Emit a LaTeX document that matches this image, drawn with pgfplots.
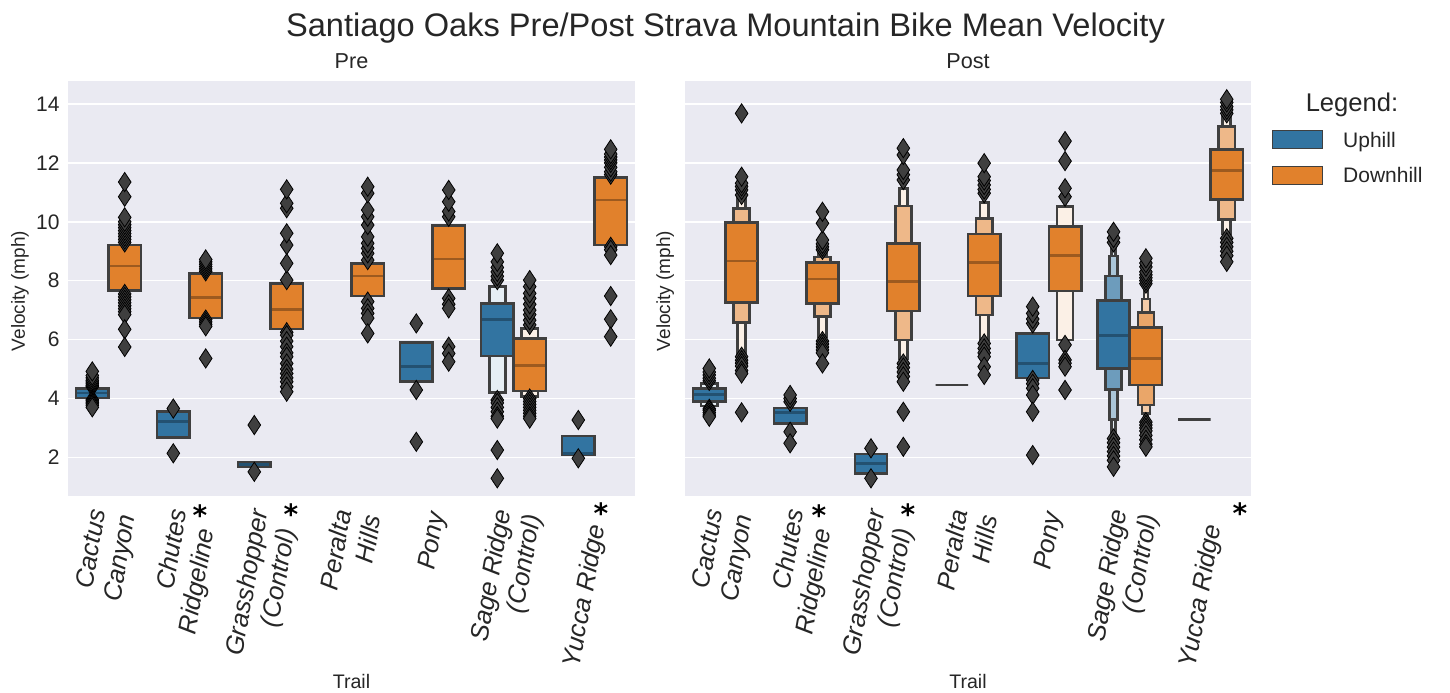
\documentclass[border=0pt]{standalone}
\usepackage{fontspec}
\setmainfont{Liberation Sans}
\newfontfamily\djv{DejaVu Sans}
\usepackage{pgfplots}
\pgfplotsset{compat=1.18}
\definecolor{cb}{HTML}{3274A1}
\definecolor{co}{HTML}{E1812C}
\definecolor{ed}{HTML}{3F3F3F}
\definecolor{bg}{HTML}{EAEAF2}
\colorlet{cbm}{cb!70!black}
\colorlet{com}{co!70!black}
\newcommand\bx[5]{\pgfmathsetmacro\xa{#1-0.2/2^#2}\pgfmathsetmacro\xb{#1+0.2/2^#2}%
 \addplot[bxs,fill=#5] coordinates {(\xa,#3) (\xb,#3) (\xb,#4) (\xa,#4)} -- cycle;}
\newcommand\md[3]{\pgfmathsetmacro\xa{#1-0.185}\pgfmathsetmacro\xb{#1+0.185}%
 \addplot[draw=#3,line width=1.4pt] coordinates {(\xa,#2) (\xb,#2)};}
\newcommand\ol[2]{\addplot[outl] table[x expr=#1, y index=0, header=false, row sep=\\] {#2};}
\pgfplotsset{
 bxs/.style={draw=ed, line width=1.3pt, line join=miter},
 outl/.style={only marks, mark=diamond*, mark size=4.8pt, mark options={draw=none, fill=ed, xscale=0.88}},
 panel/.style={
  scale only axis, height=207.5pt, anchor=south west,
  xmin=-0.5, xmax=6.5, ymin=0.69, ymax=14.78,
  axis background/.style={fill=bg},
  axis line style={draw=none},
  major tick length=0pt,
  ymajorgrids, grid style={white, line width=0.75pt},
  ytick={2,4,...,14}, xtick={0,...,6},
  /pgf/number format/assume math mode=true,
  xticklabels={{Cactus\\Canyon},{Chutes\\Ridgeline\hspace*{0.55em}},{Grasshopper\\(Control)\hspace*{0.55em}},{Peralta\\Hills},{Pony},{Sage Ridge\\(Control)},{Yucca Ridge\hspace*{0.5em}}},
  xticklabel style={font=\fontsize{12.8}{15}\selectfont\itshape, text=black!85, xshift=3pt, yshift=-8pt, rotate=80, anchor=east, align=right, inner sep=0pt},
  yticklabel style={font=\fontsize{10.5}{12}\selectfont, text=black!85, inner sep=0pt, xshift=-4pt},
 }
}
\begin{document}
\begin{tikzpicture}
\path[use as bounding box] (0,0) rectangle (725pt,346pt);
\begin{axis}[panel, at={(34pt,98pt)}, width=283.5pt]
% Cactus
\bx{-0.2}{0}{4.02}{4.34}{cb} \md{-0.2}{4.19}{cbm}
\ol{-0.2}{4.40\\4.45\\4.50\\4.56\\4.62\\4.70\\4.78\\4.92\\3.96\\3.92\\3.87\\3.82\\3.77\\3.70\\}
\bx{0.2}{0}{7.66}{9.21}{co} \md{0.2}{8.50}{com}
\ol{0.2}{9.30\\9.40\\9.50\\9.60\\9.70\\9.80\\9.90\\10.00\\10.15\\10.85\\11.35\\7.55\\7.45\\7.35\\7.25\\7.15\\7.05\\6.95\\6.85\\6.35\\5.75\\}
% Chutes
\bx{0.8}{0}{2.68}{3.55}{cb} \md{0.8}{3.21}{cbm} \ol{0.8}{3.66\\2.14\\}
\bx{1.2}{0}{6.74}{8.25}{co} \md{1.2}{7.44}{com}
\ol{1.2}{8.32\\8.40\\8.48\\8.56\\8.64\\8.72\\6.68\\6.60\\6.52\\6.45\\5.36\\}
% Grasshopper
\bx{1.8}{0}{1.68}{1.83}{cb} \md{1.8}{1.76}{cbm} \ol{1.8}{3.10\\1.51\\}
\bx{2.2}{0}{6.36}{7.91}{co} \md{2.2}{7.03}{com}
\ol{2.2}{8.02\\8.59\\9.21\\9.61\\10.46\\10.63\\11.10\\6.25\\6.15\\5.95\\5.76\\5.55\\5.42\\5.19\\5.00\\4.85\\4.70\\4.57\\4.40\\4.23\\}
% Peralta
\bx{3.2}{0}{7.48}{8.59}{co} \md{3.2}{8.16}{com}
\ol{3.2}{8.70\\8.93\\9.10\\9.27\\9.49\\9.89\\10.17\\10.40\\10.97\\11.19\\7.29\\7.06\\6.89\\6.73\\6.21\\}
% Pony
\bx{3.8}{0}{4.57}{5.91}{cb} \md{3.8}{5.10}{cbm} \ol{3.8}{6.55\\4.29\\2.53\\}
\bx{4.2}{0}{7.74}{9.87}{co} \md{4.2}{8.74}{com}
\ol{4.2}{10.17\\10.35\\10.68\\11.08\\7.40\\7.20\\7.06\\5.76\\5.53\\5.25\\}
% Sage
\bx{4.8}{1}{4.21}{7.80}{cb!12!white} \bx{4.8}{0}{5.45}{7.23}{cb} \md{4.8}{6.69}{cbm}
\ol{4.8}{8.02\\8.15\\8.30\\8.45\\8.64\\8.93\\3.95\\3.85\\3.70\\3.55\\3.40\\3.32\\2.25\\1.29\\}
\bx{5.2}{1}{4.06}{6.38}{co!12!white} \bx{5.2}{0}{4.25}{6.04}{co} \md{5.2}{5.13}{com}
\ol{5.2}{6.50\\6.66\\6.85\\7.00\\7.20\\7.40\\7.57\\7.80\\8.02\\4.00\\3.90\\3.80\\3.70\\3.60\\3.50\\3.40\\3.32\\}
% Yucca
\bx{5.8}{0}{2.08}{2.73}{cb} \md{5.8}{2.12}{cbm} \ol{5.8}{3.27\\1.97\\}
\bx{6.2}{0}{9.21}{11.50}{co} \md{6.2}{10.74}{com}
\ol{6.2}{11.60\\11.70\\11.85\\12.00\\12.10\\12.20\\12.30\\12.46\\9.15\\9.05\\8.87\\7.48\\6.69\\6.10\\}
\end{axis}
\begin{axis}[panel, at={(342.5pt,98pt)}, width=283pt, yticklabels={,,},
  legend cell align=left,
  legend style={at={(1.0371,0.8824)}, anchor=north west, draw=none, fill=none, inner sep=0pt, outer sep=0pt,
    column sep=10pt, row sep=8.2pt, font=\fontsize{10.5}{12}\selectfont, text=black!85,
    nodes={inner sep=0pt, text height=7.5pt, text depth=0pt}}]
\addlegendimage{legend image code/.code={\draw[fill=cb, draw=ed, line width=0.6pt] (0pt,-4.575pt) rectangle (25pt,4.575pt);}}
\addlegendentry{Uphill}
\addlegendimage{legend image code/.code={\draw[fill=co, draw=ed, line width=0.6pt] (0pt,-4.575pt) rectangle (25pt,4.575pt);}}
\addlegendentry{Downhill}
% Cactus
\bx{-0.2}{1}{3.75}{4.51}{cb!12!white} \bx{-0.2}{0}{3.89}{4.34}{cb} \md{-0.2}{4.14}{cbm}
\ol{-0.2}{4.60\\4.69\\4.80\\4.90\\5.02\\3.65\\3.60\\3.52\\3.44\\3.38\\}
\bx{0.2}{2}{5.47}{10.85}{co!12!white} \bx{0.2}{1}{6.59}{10.46}{co!56!white} \bx{0.2}{0}{7.25}{9.97}{co} \md{0.2}{8.67}{com}
\ol{0.2}{10.91\\11.08\\11.20\\11.31\\11.53\\13.68\\5.42\\5.30\\5.20\\5.10\\4.95\\4.85\\3.53\\}
% Chutes
\bx{0.8}{0}{3.15}{3.68}{cb} \md{0.8}{3.53}{cbm} \ol{0.8}{3.89\\4.00\\4.12\\2.87\\2.48\\}
\bx{1.2}{2}{6.10}{8.98}{co!12!white} \bx{1.2}{1}{6.78}{8.81}{co!56!white} \bx{1.2}{0}{7.23}{8.62}{co} \md{1.2}{8.06}{com}
\ol{1.2}{9.05\\9.15\\9.25\\9.38\\9.95\\10.34\\5.95\\5.85\\5.75\\5.65\\5.55\\5.19\\}
% Grasshopper
\bx{1.8}{0}{1.46}{2.11}{cb} \md{1.8}{1.80}{cbm} \ol{1.8}{2.31\\1.29\\}
\bx{2.2}{2}{5.36}{11.14}{co!12!white} \bx{2.2}{1}{5.98}{10.54}{co!56!white} \bx{2.2}{0}{6.97}{9.27}{co} \md{2.2}{7.97}{com}
\ol{2.2}{11.42\\11.60\\11.76\\12.27\\12.50\\5.19\\5.05\\4.90\\4.75\\4.57\\3.55\\2.36\\}
% Peralta
\bx{2.8}{0}{4.46}{4.46}{cb}
\bx{3.2}{2}{5.98}{10.65}{co!12!white} \bx{3.2}{1}{6.83}{10.12}{co!56!white} \bx{3.2}{0}{7.48}{9.58}{co} \md{3.2}{8.62}{com}
\ol{3.2}{10.97\\11.10\\11.25\\11.40\\11.53\\11.99\\5.87\\5.70\\5.55\\5.42\\5.08\\4.80\\}
% Pony
\bx{3.8}{0}{4.70}{6.21}{cb} \md{3.8}{5.19}{cbm}
\ol{3.8}{6.55\\6.70\\6.89\\7.12\\4.63\\4.50\\4.35\\4.12\\3.55\\2.08\\}
\bx{4.2}{1}{5.98}{10.51}{co!12!white} \bx{4.2}{0}{7.65}{9.83}{co} \md{4.2}{8.85}{com}
\ol{4.2}{10.85\\11.14\\12.06\\12.74\\5.82\\5.31\\5.20\\5.08\\4.29\\}
% Sage
\bx{4.8}{3}{2.82}{9.21}{cb!12!white} \bx{4.8}{2}{3.29}{8.84}{cb!41!white} \bx{4.8}{1}{4.31}{8.16}{cb!71!white} \bx{4.8}{0}{5.02}{7.32}{cb} \md{4.8}{6.15}{cbm}
\ol{4.8}{9.30\\9.45\\9.66\\2.64\\2.50\\2.35\\2.20\\2.05\\1.90\\1.68\\}
\bx{5.2}{3}{3.29}{7.80}{co!12!white} \bx{5.2}{2}{3.49}{7.38}{co!41!white} \bx{5.2}{1}{3.78}{6.93}{co!71!white} \bx{5.2}{0}{4.46}{6.42}{co} \md{5.2}{5.36}{com}
\ol{5.2}{7.90\\8.00\\8.10\\8.20\\8.30\\8.47\\8.60\\8.76\\3.20\\3.10\\3.00\\2.90\\2.75\\2.60\\2.45\\2.36\\}
% Yucca
\bx{5.8}{0}{3.29}{3.29}{cb}
\bx{6.2}{2}{9.61}{13.59}{co!12!white} \bx{6.2}{1}{10.08}{13.23}{co!56!white} \bx{6.2}{0}{10.76}{12.46}{co} \md{6.2}{11.74}{com}
\ol{6.2}{13.68\\13.80\\13.91\\14.05\\14.16\\9.44\\9.30\\9.15\\9.00\\8.85\\8.64\\}
\end{axis}
% texts
\node[anchor=base, font=\fontsize{16.3}{18}\selectfont, text=black!85] at (362.75pt,327.65pt) {Santiago Oaks Pre/Post Strava Mountain Bike Mean Velocity};
\node[anchor=base, font=\fontsize{10.8}{12}\selectfont, text=black!85] at (175.75pt,311.85pt) {Pre};
\node[anchor=base, font=\fontsize{10.8}{12}\selectfont, text=black!85] at (484pt,311.85pt) {Post};
\node[anchor=base, font=\fontsize{9.8}{12}\selectfont, text=black!85] at (175.75pt,1.85pt) {Trail};
\node[anchor=base, font=\fontsize{9.8}{12}\selectfont, text=black!85] at (484pt,1.85pt) {Trail};
\node[anchor=base, rotate=90, font=\fontsize{9.5}{12}\selectfont, text=black!85] at (12.5pt,200.5pt) {Velocity (mph)};
\node[anchor=base, rotate=90, font=\fontsize{9.5}{12}\selectfont, text=black!85] at (335pt,200.5pt) {Velocity (mph)};
\node[anchor=base, font=\fontsize{12.8}{14}\selectfont, text=black!85] at (676pt,290.15pt) {Legend:};
\foreach \x/\y in {100/91.5, 145.5/92, 300.5/92.5, 409.5/91.5, 454/92, 620/92.5}
  \node[anchor=base, inner sep=0pt, font=\djv\bfseries\fontsize{14}{14}\selectfont] at (\x pt,\y pt) {\smash{\raisebox{-0.59em}{*}}};
\end{tikzpicture}
\end{document}
